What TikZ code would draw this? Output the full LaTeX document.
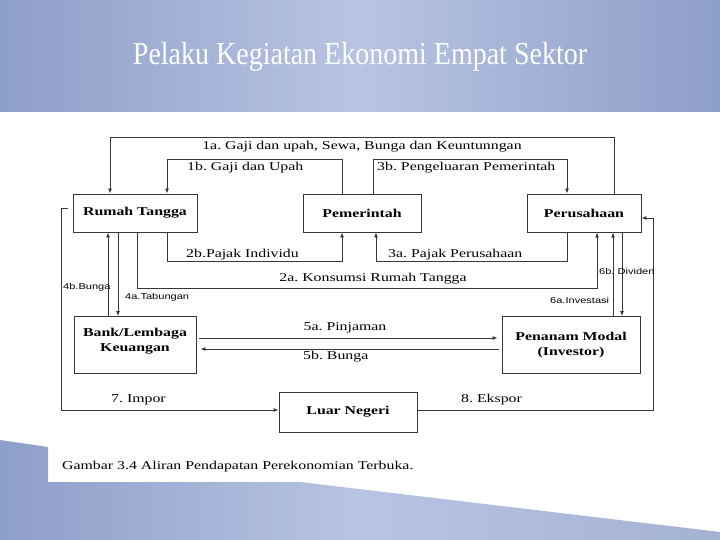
\documentclass[tikz,border=0pt]{standalone}
\usepackage{fontspec}
\setmainfont{Liberation Serif}
\setsansfont{Liberation Sans}
\newfontfamily\diagramFont[FakeStretch=1.32]{Liberation Serif}
\newfontfamily\diagramSans[FakeStretch=1.3]{Liberation Sans}
\newfontfamily\titleFont[FakeStretch=0.875]{Liberation Serif}
\usetikzlibrary{arrows.meta}

\definecolor{slideBlue}{RGB}{141,158,200}
\definecolor{slideLight}{RGB}{184,196,227}
\definecolor{lineGray}{RGB}{55,55,55}

\begin{document}
\frenchspacing
\begin{tikzpicture}
            [x=1pt, y=-1pt,
             >={Latex[length=5pt,width=4pt]},
             sectorBox/.style={rectangle,
                        draw=lineGray,
                        line width=0.9pt,
                        fill=white,
                        align=center,
                        inner sep=0pt,
                        font=\diagramFont\bfseries\fontsize{12}{14.5}\selectfont},
             flow/.style={draw=lineGray, line width=0.9pt},
             flowLabel/.style={inner sep=0pt, font=\diagramFont\fontsize{12}{13}\selectfont},
             smallLabel/.style={inner sep=0pt, font=\diagramSans\fontsize{8.5}{9}\selectfont}]

            \useasboundingbox (0,0) rectangle (720,540);
            \fill[white] (0,0) rectangle (720,540);
            % slide background
            \shade[left color=slideBlue, right color=slideBlue, middle color=slideLight] (0,0) rectangle (720,112);
            \shade[left color=slideBlue, right color=slideBlue!80!white, middle color=slideLight]
                (0,440) -- (48,447) -- (48,482) -- (300,482) -- (720,532) -- (720,540) -- (0,540) -- cycle;

            \node[text=white, font=\titleFont\fontsize{32}{32}\selectfont] (title) at (360,57) {Pelaku Kegiatan Ekonomi Empat Sektor};

            % sectors
            \node[sectorBox, minimum width=124, minimum height=38] (rumahTangga) at (135,213) {Rumah Tangga};
            \node[sectorBox, minimum width=118, minimum height=38] (pemerintah) at (362,213) {Pemerintah};
            \node[sectorBox, minimum width=114, minimum height=38] (perusahaan) at (584,213) {Perusahaan};
            \node[sectorBox, minimum width=122, minimum height=57] (bank) at (135,345) {Bank/Lembaga\\Keuangan\\[-4pt]};
            \node[sectorBox, minimum width=138, minimum height=57] (investor) at (571,345) {Penanam Modal\\(Investor)};
            \node[sectorBox, minimum width=138, minimum height=40] (luarNegeri) at (348,412) {Luar Negeri};

            % flows between sectors
            \draw[flow, ->] ([xshift=30pt]perusahaan.north) -- ++(0,-56) -| ([xshift=-25pt]rumahTangga.north);
            \draw[flow, ->] ([xshift=-20pt]pemerintah.north) -- ++(0,-34) -| ([xshift=32pt]rumahTangga.north);
            \draw[flow, ->] ([xshift=11pt]pemerintah.north) -- ++(0,-34) -| ([xshift=-17pt]perusahaan.north);
            \draw[flow, ->] ([xshift=32pt]rumahTangga.south) -- ++(0,29) -| ([xshift=-20pt]pemerintah.south);
            \draw[flow, ->] ([xshift=-17pt]perusahaan.south) -- ++(0,29) -| ([xshift=14pt]pemerintah.south);
            \draw[flow, ->] ([xshift=2pt]rumahTangga.south) -- ++(0,56) -| ([xshift=13pt]perusahaan.south);
            \draw[flow, ->] ([xshift=-27pt]bank.north) -- ([xshift=-27pt]rumahTangga.south);
            \draw[flow, ->] ([xshift=-17pt]rumahTangga.south) -- ([xshift=-17pt]bank.north);
            \draw[flow, ->] ([xshift=42pt]investor.north) -- ([xshift=29pt]perusahaan.south);
            \draw[flow, ->] ([xshift=38pt]perusahaan.south) -- ([xshift=51pt]investor.north);
            \draw[flow, ->, shorten <=3pt, shorten >=4pt] ([yshift=7pt]bank.east) -- ([yshift=7pt]investor.west);
            \draw[flow, ->, shorten <=3pt, shorten >=4pt] ([yshift=-4pt]investor.west) -- ([yshift=-4pt]bank.east);
            \draw[flow, ->] ([xshift=-5pt,yshift=5pt]rumahTangga.west) -- ++(-6,0) |- ([yshift=2pt]luarNegeri.west);
            \draw[flow, ->] ([yshift=2pt]luarNegeri.east) -- ++(236,0) |- ([yshift=-5pt]perusahaan.east);

            % flow labels
            \node[flowLabel] (gajiSewa) at (362,147) {1a. Gaji dan upah, Sewa, Bunga dan Keuntunngan};
            \node[flowLabel, anchor=west] (gajiUpah) at (187,168) {1b. Gaji dan Upah};
            \node[flowLabel, anchor=west] (pengeluaran) at (377,168) {3b. Pengeluaran Pemerintah};
            \node[flowLabel, anchor=west] (pajakIndividu) at (186,255) {2b.Pajak Individu};
            \node[flowLabel, anchor=west] (pajakPerusahaan) at (388,255) {3a. Pajak Perusahaan};
            \node[flowLabel] (konsumsi) at (373,279) {2a. Konsumsi Rumah Tangga};
            \node[smallLabel, anchor=west] (bungaBank) at (63,287) {4b.Bunga};
            \node[smallLabel, anchor=west] (tabungan) at (125,297) {4a.Tabungan};
            \node[smallLabel, anchor=west] (dividen) at (599,271) {6b. Dividen};
            \node[smallLabel, anchor=west] (investasi) at (550,300) {6a.Investasi};
            \node[flowLabel] (pinjaman) at (345,328) {5a. Pinjaman};
            \node[flowLabel, anchor=west] (bungaInvestor) at (303,357) {5b. Bunga};
            \node[flowLabel, anchor=west] (impor) at (111,400) {7. Impor};
            \node[flowLabel, anchor=west] (ekspor) at (461,400) {8. Ekspor};

            \node[flowLabel, anchor=west] (caption) at (62,467) {Gambar 3.4 Aliran Pendapatan Perekonomian Terbuka.};
        \end{tikzpicture}
\end{document}
